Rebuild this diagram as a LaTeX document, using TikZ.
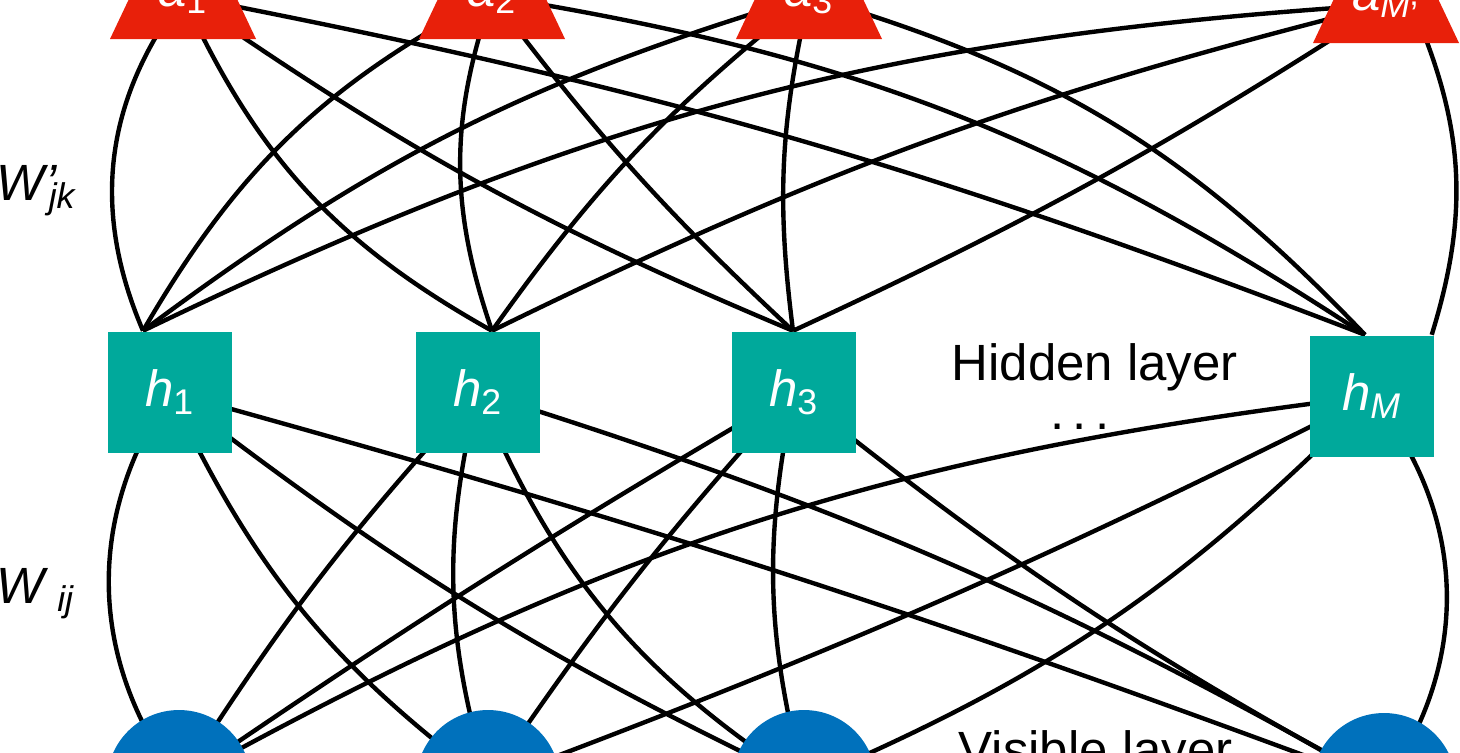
\documentclass[tikz,border=0pt]{standalone}
\usepackage{fontspec}
\setmainfont{Liberation Sans}
\usetikzlibrary{positioning,calc}

\definecolor{outred}{RGB}{232,32,10}
\definecolor{hidteal}{RGB}{0,169,155}
\definecolor{visblue}{RGB}{0,113,188}

\pgfdeclarelayer{edges}
\pgfsetlayers{edges,main}

\tikzset{
  hid/.style={fill=hidteal,minimum width=12.4mm,minimum height=12.1mm,inner sep=0pt,text=white},
  vis/.style={circle,fill=visblue,minimum size=14.4mm,inner sep=0pt},
  outlbl/.style={text=white,inner sep=0pt,anchor=base},
  txt/.style={inner sep=0pt,anchor=base west},
  link/.style={line width=1.25pt}
}

\begin{document}
\begin{tikzpicture}[x=0.1mm,y=-0.1mm,font=\fontsize{14.5}{17}\selectfont]
  \useasboundingbox (0,0) rectangle (1460,752);
  \clip (0,0) rectangle (1460,752);

  % hidden layer
  \node[hid] (h1) at (170,392) {\textit{h}\textsubscript{1}};
  \node[hid] (h2) at (478,392) {\textit{h}\textsubscript{2}};
  \node[hid] (h3) at (794,392) {\textit{h}\textsubscript{3}};
  \node[hid] (hM) at (1372,396) {\textit{h}\textsubscript{\textit{M}}};

  % visible layer
  \node[vis] (v1) at (179,782) {};
  \node[vis] (v2) at (488,782) {};
  \node[vis] (v3) at (804,782) {};
  \node[vis] (vM) at (1384,785) {};

  % output layer
  \foreach \n/\x/\y/\s in {a1/183/39/1, a2/492/39/2, a3/809/39/3, aM/1386/43/{\textit{M}\raisebox{-2.5pt}{’}}} {
    \fill[outred] (\x-73,\y) -- (\x+73,\y) -- (\x,\y-154) -- cycle;
    \node[outlbl] (\n) at (\x,\y-33) {\textit{a}\textsubscript{\s}};
  }

  % ports on top of the hidden units
  \coordinate (h1p) at ($(h1.north)+(-27,0)$);
  \coordinate (h2p) at ($(h2.north)+(14,0)$);
  \coordinate (h3p) at ($(h3.north)+(-1,0)$);
  \coordinate (hMp) at ($(hM.north)+(-7,0)$);
  \coordinate (hMq) at ($(hM.north east)+(-3,0)$);
  \coordinate (aMq) at ($(aM.center)+(30,10)$);

  \begin{pgfonlayer}{edges}
    % W'_jk
    \foreach \s/\t/\b in {h1p/a1/30, h1p/a2/16, h1p/a3/10, h1p/aM/11,
                          h2p/a1/18, h2p/a2/19, h2p/a3/8, h2p/aM/6,
                          h3p/a1/6, h3p/a2/5, h3p/a3/10, h3p/aM/-4,
                          hMp/a1/-5, hMp/a2/-12, hMp/a3/-15}
      \draw[link] (\s) to[bend left=\b] (\t.center);
    \draw[link] (hMq) to[bend right=20] (aMq);
    % W_ij
    \foreach \s/\t/\b in {v1/h1/35, v2/h1/14, v3/h1/6, vM/h1/-2.5,
                          v1/h2/5, v2/h2/15, v3/h2/17, vM/h2/-6,
                          v1/h3/2, v2/h3/4, v3/h3/13, vM/h3/5,
                          v1/hM/11, v2/hM/-3, v3/hM/-11, vM/hM/-37}
      \draw[link] (\s.center) to[bend left=\b] (\t.center);
  \end{pgfonlayer}

  % labels
  \node[txt] (hidtxt) at (951,380) {Hidden layer};
  \node[txt,anchor=base] (hdots) at (1080,429) {.\,.\,.};
  \node[txt] (vistxt) at (958,767) {Visible layer};
  \node[txt] (wjk) at (-4,200) {\textit{W}\rlap{\kern-1pt\textit{’}}\textsubscript{\textit{jk}}};
  \node[txt] (wij) at (-4,603) {\textit{W}\,\textsubscript{\textit{ij}}};
\end{tikzpicture}
\end{document}
